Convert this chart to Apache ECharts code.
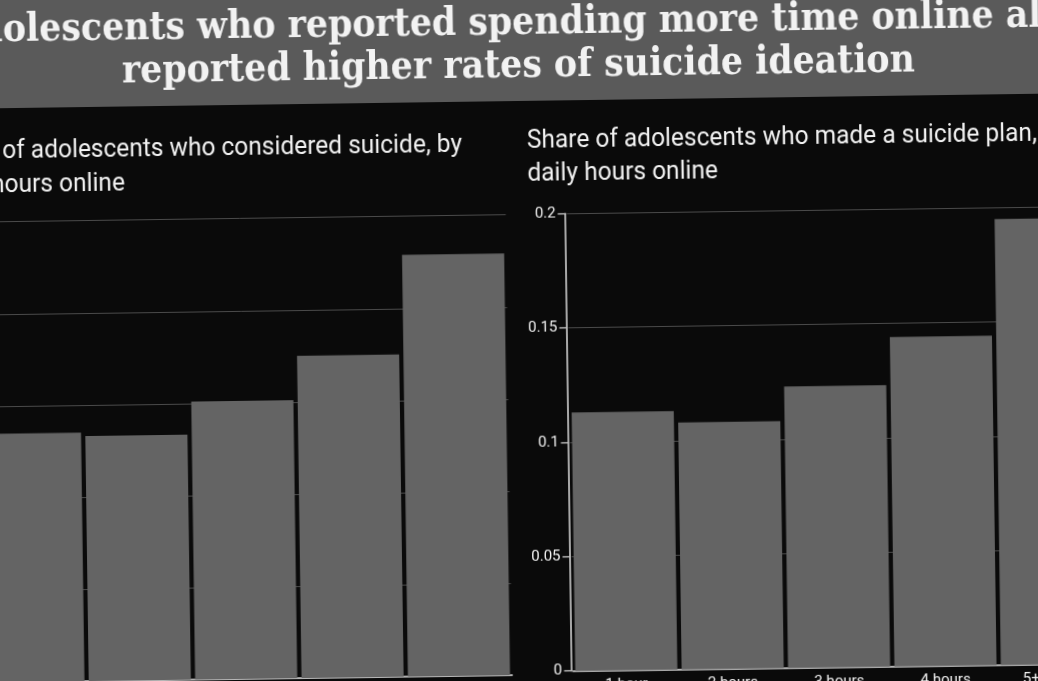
<!DOCTYPE html>
<html>
<head>
<meta charset="utf-8">
<script src="https://cdn.jsdelivr.net/npm/echarts@6/dist/echarts.min.js"></script>
<style>
  html, body { margin: 0; padding: 0; width: 1038px; height: 681px; overflow: hidden; background: #0a0a0a; }
  #wrap { position: absolute; left: -40px; top: -40px; width: 1118px; height: 761px; transform: rotate(-0.8deg); transform-origin: 50% 50%; }
  #chart { width: 1118px; height: 761px; }
</style>
</head>
<body>
<div id="wrap"><div id="chart"></div></div>
<script>
// ---- data ----
const mainTitleLines = ['Adolescents who reported spending more time online also', 'reported higher rates of suicide ideation'];
const leftTitleLines = ['Share of adolescents who considered suicide, by', 'daily hours online'];
const rightTitleLines = ['Share of adolescents who made a suicide plan, by', 'daily hours online'];
const categories = ['1 hour', '2 hours', '3 hours', '4 hours', '5+ hours'];
const consideredSuicide = [0.135, 0.133, 0.151, 0.175, 0.229];
const madeSuicidePlan = [0.113, 0.108, 0.123, 0.144, 0.195];
const leftAxisMax = 0.25;
const rightAxisMax = 0.2;
const axisStep = 0.05;

// ---- styling / layout ----
const BG = '#0a0a0a', BAND = '#5a5a5a', BAR = '#646464', GRID = '#4a4a4a', AXIS = '#dcdcdc', TEXT = '#f2f2f2';
const mctx = document.createElement('canvas').getContext('2d');
const titleFont = 'bold 40px "DejaVu Serif"';
mctx.font = titleFont;
const titleScale = 793 / mctx.measureText(mainTitleLines[1]).width;
const subFont = '26px Roboto';
mctx.font = subFont;
const subScale = 510 / mctx.measureText('Share of adolescents who made a suicide plan,').width;

function axisPair(gridIndex, max) {
  return {
    x: {
      type: 'category', gridIndex, data: categories,
      axisLine: { lineStyle: { color: AXIS, width: 1.5 } },
      axisTick: { alignWithLabel: true, length: 6, lineStyle: { color: AXIS, width: 1.2 } },
      axisLabel: { color: TEXT, fontFamily: 'Roboto', fontSize: 15, margin: 7 },
      splitLine: { show: false }
    },
    y: {
      type: 'value', gridIndex, min: 0, max, interval: axisStep, offset: 2,
      axisLine: { show: true, lineStyle: { color: AXIS, width: 1.5 } },
      axisTick: { show: true, length: 7, lineStyle: { color: AXIS, width: 1.2 } },
      axisLabel: { color: TEXT, fontFamily: 'Roboto', fontSize: 15, margin: 9 },
      splitLine: { show: true, lineStyle: { color: GRID, width: 1 } }
    }
  };
}
const A0 = axisPair(0, leftAxisMax);
const A1 = axisPair(1, rightAxisMax);

function textEl(str, x, y, font, align, scale) {
  return {
    type: 'text', x, y, scaleX: scale || 1, silent: true,
    style: { text: str, x: 0, y: 0, font, fill: TEXT, align, verticalAlign: 'middle' }
  };
}

const option = {
  animation: false,
  backgroundColor: BG,
  grid: [
    { left: 15.5, top: 254.7, width: 532, height: 460.3, outerBoundsMode: 'none', containLabel: false },
    { left: 608.5, top: 254.2, width: 532, height: 457.5, outerBoundsMode: 'none', containLabel: false }
  ],
  xAxis: [A0.x, A1.x],
  yAxis: [A0.y, A1.y],
  series: [
    { type: 'bar', xAxisIndex: 0, yAxisIndex: 0, data: consideredSuicide, barCategoryGap: '4%', itemStyle: { color: BAR } },
    { type: 'bar', xAxisIndex: 1, yAxisIndex: 1, data: madeSuicidePlan, barCategoryGap: '4%', itemStyle: { color: BAR } }
  ],
  graphic: [
    { type: 'rect', silent: true, shape: { x: 0, y: 0, width: 1118, height: 141 }, style: { fill: BAND } },
    textEl(mainTitleLines[0], 562.3, 64, titleFont, 'center', titleScale),
    textEl(mainTitleLines[1], 562.3, 106.5, titleFont, 'center', titleScale),
    textEl(leftTitleLines[0], -23.5, 184, subFont, 'left', subScale),
    textEl(leftTitleLines[1], -23.5, 218, subFont, 'left', subScale),
    textEl(rightTitleLines[0], 569.7, 181, subFont, 'left', subScale),
    textEl(rightTitleLines[1], 569.7, 214, subFont, 'left', subScale)
  ]
};
const chart = echarts.init(document.getElementById('chart'), null, { renderer: 'canvas', width: 1118, height: 761 });
chart.setOption(option);
</script>
</body>
</html>
